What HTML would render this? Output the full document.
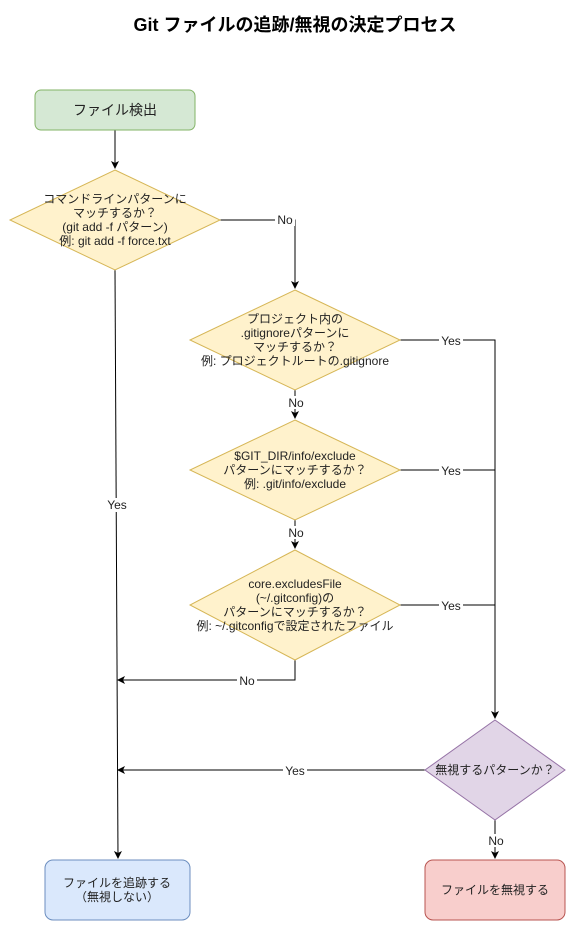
<!DOCTYPE html>
<html><head><meta charset="utf-8"><style>
html,body{margin:0;padding:0;background:#fff}
svg text{font-family:"Liberation Sans","Noto Sans CJK JP",sans-serif;font-size:12px;fill:#222}
</style></head><body>
<svg width="576" height="931" viewBox="0 0 576 931" xmlns="http://www.w3.org/2000/svg">
<defs><marker id="a" markerWidth="8" markerHeight="8" refX="7" refY="4" orient="auto" markerUnits="userSpaceOnUse"><path d="M0,0 L8,4 L0,8 L2,4 Z" fill="#000"/></marker></defs>
<text x="295" y="31" text-anchor="middle" style="font-size:18px;font-weight:bold;fill:#000">Git ファイルの追跡/無視の決定プロセス</text>
<g fill="none" stroke="#000" stroke-width="1">
<path d="M115,130 V168" marker-end="url(#a)"/>
<path d="M220,220 H295 V288" marker-end="url(#a)"/>
<path d="M115,270 L118,858" marker-end="url(#a)"/>
<path d="M295,390 V418" marker-end="url(#a)"/>
<path d="M295,520 V548" marker-end="url(#a)"/>
<path d="M400,340 H495 V718" marker-end="url(#a)"/>
<path d="M400,470 H495"/>
<path d="M400,605 H495"/>
<path d="M295,660 V680 H118" marker-end="url(#a)"/>
<path d="M425,770 H118" marker-end="url(#a)"/>
<path d="M495,820 V858" marker-end="url(#a)"/>
</g>
<rect x="35" y="90" width="160" height="40" rx="6" fill="#d5e8d4" stroke="#82b366"/>
<text x="115" y="115" text-anchor="middle" style="font-size:14px">ファイル検出</text>
<polygon points="115,170 220,220 115,270 10,220" fill="#fff2cc" stroke="#d6b656"/>
<text text-anchor="middle"><tspan x="115" y="203">コマンドラインパターンに</tspan><tspan x="115" y="217">マッチするか？</tspan><tspan x="115" y="231">(git add -f パターン)</tspan><tspan x="115" y="245">例: git add -f force.txt</tspan></text>
<polygon points="295,290 400,340 295,390 190,340" fill="#fff2cc" stroke="#d6b656"/>
<text text-anchor="middle"><tspan x="295" y="323">プロジェクト内の</tspan><tspan x="295" y="337">.gitignoreパターンに</tspan><tspan x="295" y="351">マッチするか？</tspan><tspan x="295" y="365">例: プロジェクトルートの.gitignore</tspan></text>
<polygon points="295,420 400,470 295,520 190,470" fill="#fff2cc" stroke="#d6b656"/>
<text text-anchor="middle"><tspan x="295" y="460">$GIT_DIR/info/exclude</tspan><tspan x="295" y="474">パターンにマッチするか？</tspan><tspan x="295" y="488">例: .git/info/exclude</tspan></text>
<polygon points="295,550 400,605 295,660 190,605" fill="#fff2cc" stroke="#d6b656"/>
<text text-anchor="middle"><tspan x="295" y="588">core.excludesFile</tspan><tspan x="295" y="602">(~/.gitconfig)の</tspan><tspan x="295" y="616">パターンにマッチするか？</tspan><tspan x="295" y="630">例: ~/.gitconfigで設定されたファイル</tspan></text>
<polygon points="495,720 565,770 495,820 425,770" fill="#e1d5e7" stroke="#9673a6"/>
<text x="495" y="774" text-anchor="middle">無視するパターンか？</text>
<rect x="45" y="860" width="145" height="60" rx="8" fill="#dae8fc" stroke="#6c8ebf"/>
<text text-anchor="middle"><tspan x="117" y="887">ファイルを追跡する</tspan><tspan x="117" y="901">（無視しない）</tspan></text>
<rect x="425" y="860" width="140" height="60" rx="8" fill="#f8cecc" stroke="#b85450"/>
<text x="495" y="894" text-anchor="middle">ファイルを無視する</text>
<g text-anchor="middle">
<rect x="275" y="213" width="20" height="13" fill="#fff"/><text x="285" y="224">No</text>
<rect x="105" y="498" width="24" height="14" fill="#fff"/><text x="117" y="509">Yes</text>
<rect x="439" y="334" width="24" height="13" fill="#fff"/><text x="451" y="345">Yes</text>
<rect x="286" y="396" width="20" height="13" fill="#fff"/><text x="296" y="407">No</text>
<rect x="439" y="464" width="24" height="13" fill="#fff"/><text x="451" y="475">Yes</text>
<rect x="286" y="526" width="20" height="13" fill="#fff"/><text x="296" y="537">No</text>
<rect x="439" y="599" width="24" height="13" fill="#fff"/><text x="451" y="610">Yes</text>
<rect x="237" y="674" width="20" height="13" fill="#fff"/><text x="247" y="685">No</text>
<rect x="283" y="764" width="24" height="13" fill="#fff"/><text x="295" y="775">Yes</text>
<rect x="486" y="834" width="20" height="13" fill="#fff"/><text x="496" y="845">No</text>
</g>
</svg>
</body></html>
